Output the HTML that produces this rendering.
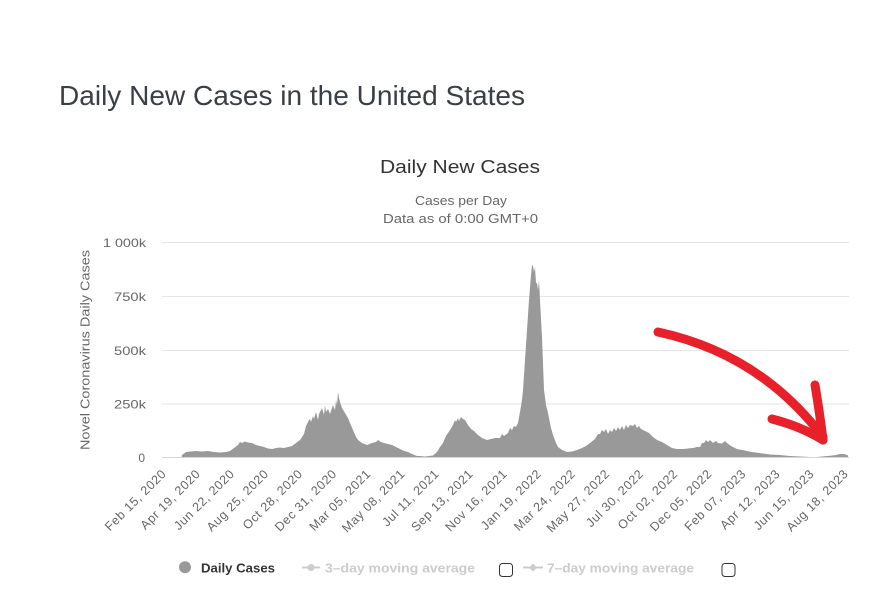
<!DOCTYPE html>
<html>
<head>
<meta charset="utf-8">
<style>
  html, body { margin: 0; padding: 0; background: #ffffff; }
  svg { display: block; }
  text { font-family: "Liberation Sans", Arial, sans-serif; }
</style>
</head>
<body>
<svg width="888" height="589" viewBox="0 0 888 589" xmlns="http://www.w3.org/2000/svg">
  <rect x="0" y="0" width="888" height="589" fill="#ffffff"/>

  <!-- Page title -->
  <text x="59" y="105" font-size="28" fill="#3a3e47" textLength="466" lengthAdjust="spacingAndGlyphs">Daily New Cases in the United States</text>

  <!-- Chart titles -->
  <text x="460" y="173" font-size="18" fill="#333333" text-anchor="middle" textLength="160" lengthAdjust="spacingAndGlyphs">Daily New Cases</text>
  <text x="461" y="205" font-size="12.5" fill="#666666" text-anchor="middle" textLength="92" lengthAdjust="spacingAndGlyphs">Cases per Day</text>
  <text x="460.5" y="223" font-size="12.5" fill="#666666" text-anchor="middle" textLength="155" lengthAdjust="spacingAndGlyphs">Data as of 0:00 GMT+0</text>

  <!-- Gridlines -->
  <g stroke="#e6e6e6" stroke-width="1">
    <line x1="162" y1="242.5" x2="849" y2="242.5"/>
    <line x1="162" y1="296.5" x2="849" y2="296.5"/>
    <line x1="162" y1="350.5" x2="849" y2="350.5"/>
    <line x1="162" y1="404" x2="849" y2="404"/>
  </g>

  <!-- Y labels -->
  <g font-size="12" fill="#666666" text-anchor="end">
    <text x="146" y="247" textLength="43" lengthAdjust="spacingAndGlyphs">1 000k</text>
    <text x="146" y="301" textLength="32" lengthAdjust="spacingAndGlyphs">750k</text>
    <text x="146" y="355" textLength="32" lengthAdjust="spacingAndGlyphs">500k</text>
    <text x="146" y="408.5" textLength="32" lengthAdjust="spacingAndGlyphs">250k</text>
    <text x="145" y="462">0</text>
  </g>

  <!-- Y axis title -->
  <text transform="translate(89.5,350) rotate(-90)" font-size="13" fill="#666666" text-anchor="middle" textLength="200" lengthAdjust="spacingAndGlyphs">Novel Coronavirus Daily Cases</text>

  <!-- Bars (area approximation) -->
  <polygon fill="#999999" points="
181.7,457.5 182,455 186,452 190,451.5 196,451 202,451.5 208,451 214,452 220,452.5 226,452 230,451 234,448 238,445 240,442 242,443 245,441.5 248,442.5 252,443 256,445 260,446 264,447 268,448.5 272,449 276,448 280,447.5 284,448 288,447 292,446 296,443 300,440 304,434 306,426 307,424 309,420 310,419 311,422 313,416 314,419 316,412 318,420 319,414 321,410 322,408 324,415 325,405 326,412 328,409 330,414 331,411 333,405 335,410 336,400 337,405 338,392 339,398 340,402 342,408 345,413 348,418 350,423 353,430 356,437 358,440 362,443 367,445 372,443 376,442 378,440 380,441.5 384,443 388,444 392,445 396,447 400,449 404,451 408,452 412,454 417,456 420,456 425,456.5 433,455.5 437,452 440,447 443,443 446,436 450,430 453,425 455,420 456,422 458,418 459,421 461,417 463,419 465,420 468,425 471,429 474,431 478,435 482,438 487,440 491,439 495,438 500,438 502,434 504,436 508,433 510,428 512,430 514,426 516,427 518,423 520,412 522,400 523,390 525,360 527,330 529,300 531,275 532,265 533,266 534,272 535,267 536,283 537,283 538,290 539,280 540,300 542,337 544,390 546,405 548,413 551,428 553,435 556,443 558,447 562,450 567,452 572,451.5 577,450 582,448 586,446 590,443 595,439 598,434 600,434 602,430 604,432 606,429 608,434 610,430 612,432 614,428 616,431 618,427 620,430 622,426 624,430 626,425 628,428 630,425 633,426 635,424 637,428 639,426 641,429 645,431 649,433 653,437 657,440 662,442 667,445 672,448 677,449 683,449 688,448.5 693,448 697,447 700,447 702,443 704,443 706,440 708,442 710,440 713,443 716,441 718,443 722,443.5 725,441 727,443 731,446 737,449 742,450 747,451 752,452 757,452.7 763,453.5 770,454.5 780,455 790,456 800,456.5 810,457 817,457 822,456.5 827,456 832,455.5 836,455 840,454 844,454 848,455.5 848,457.5"/>

  <!-- X axis line -->
  <line x1="162" y1="457.5" x2="849" y2="457.5" stroke="#ccd6eb" stroke-width="1"/>

  <!-- X labels -->
  <g font-size="12.5" fill="#666666" text-anchor="end" letter-spacing="0.6">
    <text transform="translate(167,474.5) rotate(-45)">Feb 15, 2020</text>
    <text transform="translate(201.1,474.5) rotate(-45)">Apr 19, 2020</text>
    <text transform="translate(235.2,474.5) rotate(-45)">Jun 22, 2020</text>
    <text transform="translate(269.3,474.5) rotate(-45)">Aug 25, 2020</text>
    <text transform="translate(303.4,474.5) rotate(-45)">Oct 28, 2020</text>
    <text transform="translate(337.5,474.5) rotate(-45)">Dec 31, 2020</text>
    <text transform="translate(371.6,474.5) rotate(-45)">Mar 05, 2021</text>
    <text transform="translate(405.7,474.5) rotate(-45)">May 08, 2021</text>
    <text transform="translate(439.8,474.5) rotate(-45)">Jul 11, 2021</text>
    <text transform="translate(473.9,474.5) rotate(-45)">Sep 13, 2021</text>
    <text transform="translate(508,474.5) rotate(-45)">Nov 16, 2021</text>
    <text transform="translate(542.1,474.5) rotate(-45)">Jan 19, 2022</text>
    <text transform="translate(576.2,474.5) rotate(-45)">Mar 24, 2022</text>
    <text transform="translate(610.3,474.5) rotate(-45)">May 27, 2022</text>
    <text transform="translate(644.4,474.5) rotate(-45)">Jul 30, 2022</text>
    <text transform="translate(678.5,474.5) rotate(-45)">Oct 02, 2022</text>
    <text transform="translate(712.6,474.5) rotate(-45)">Dec 05, 2022</text>
    <text transform="translate(746.7,474.5) rotate(-45)">Feb 07, 2023</text>
    <text transform="translate(780.8,474.5) rotate(-45)">Apr 12, 2023</text>
    <text transform="translate(814.9,474.5) rotate(-45)">Jun 15, 2023</text>
    <text transform="translate(849,474.5) rotate(-45)">Aug 18, 2023</text>
  </g>

  <!-- Red arrow annotation -->
  <g fill="none" stroke="#e8202a" stroke-width="9" stroke-linecap="round" stroke-linejoin="round">
    <path d="M658,332 Q760,354 823,437"/>
    <path d="M772,419 Q800,426 823,440"/>
    <path d="M815,385 Q820,415 823,440"/>
  </g>

  <!-- Legend -->
  <circle cx="185" cy="567.3" r="6" fill="#999999"/>
  <text x="201" y="572.7" font-size="13" font-weight="bold" fill="#333333" textLength="74" lengthAdjust="spacingAndGlyphs">Daily Cases</text>

  <line x1="302" y1="567.5" x2="320" y2="567.5" stroke="#cccccc" stroke-width="2"/>
  <circle cx="311" cy="567.5" r="3.5" fill="#cccccc"/>
  <text x="325" y="572.7" font-size="13" font-weight="bold" fill="#cccccc" textLength="150" lengthAdjust="spacingAndGlyphs">3–day moving average</text>
  <rect x="499.5" y="563.5" width="13" height="13" rx="3" ry="3" fill="#ffffff" stroke="#333333" stroke-width="1"/>

  <line x1="523" y1="567.5" x2="543" y2="567.5" stroke="#cccccc" stroke-width="2"/>
  <path d="M533,563.5 L537,567.5 L533,571.5 L529,567.5 Z" fill="#cccccc"/>
  <text x="547" y="572.7" font-size="13" font-weight="bold" fill="#cccccc" textLength="147" lengthAdjust="spacingAndGlyphs">7–day moving average</text>
  <rect x="722" y="563.5" width="13" height="13" rx="3" ry="3" fill="#ffffff" stroke="#333333" stroke-width="1"/>
</svg>
</body>
</html>
